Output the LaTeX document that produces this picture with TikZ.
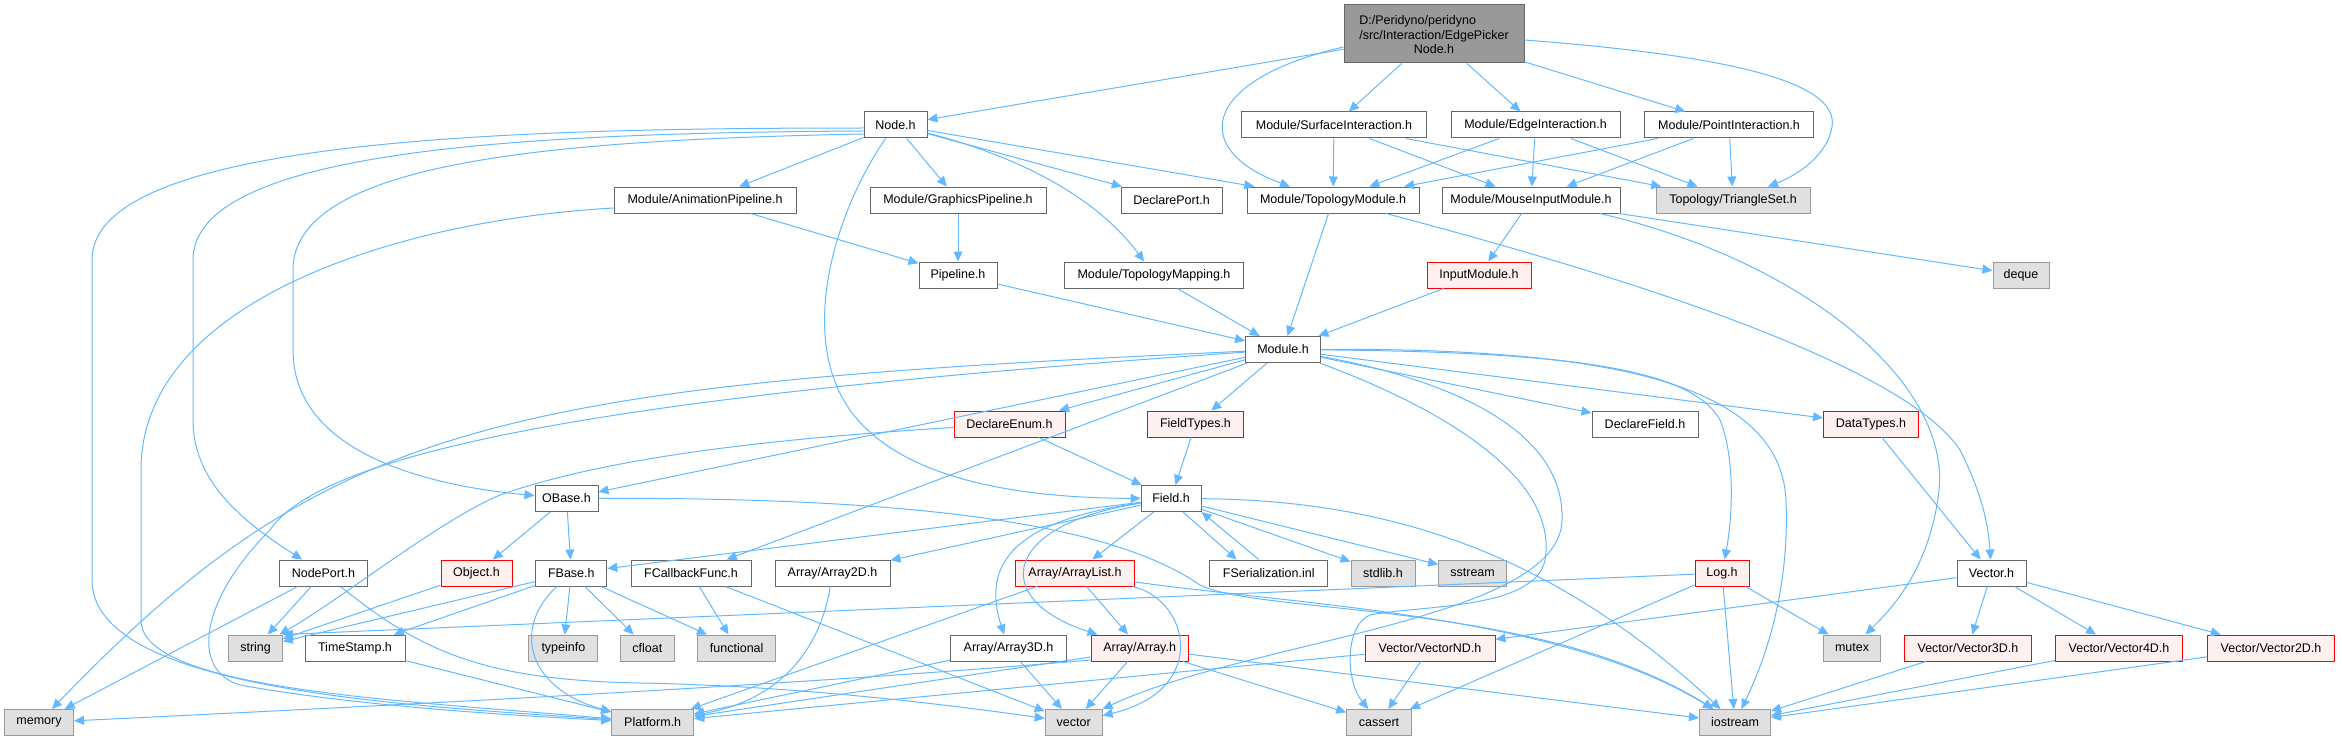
\documentclass[tikz,border=0pt]{standalone}
\usepackage{fontspec}
\setmainfont{Liberation Sans}
\usetikzlibrary{arrows.meta}
\definecolor{edgec}{HTML}{63B8FF}
\definecolor{bordc}{HTML}{666666}
\definecolor{sysb}{HTML}{999999}
\definecolor{sysf}{HTML}{E0E0E0}
\definecolor{redb}{HTML}{FF0000}
\definecolor{redf}{HTML}{FFF0F0}
\definecolor{rootf}{HTML}{999999}
\begin{document}
\begin{tikzpicture}[x=1pt,y=-1pt,
  box/.style={draw=bordc,fill=white,line width=1pt,minimum height=26pt,inner sep=0pt,font=\fontsize{12.5}{15}\selectfont},
  sys/.style={box,draw=sysb,fill=sysf},
  rbox/.style={box,draw=redb,fill=redf},
  e/.style={draw=edgec,line width=1pt,-{Triangle[length=10pt,width=9pt]}}]
\useasboundingbox (0,0) rectangle (2342,741);
% nodes
\node[box,fill=rootf,minimum width=180pt,minimum height=58pt,align=center] (root) at (1434,34) {\begin{tabular}{@{}l@{}}D:/Peridyno/peridyno\\/src/Interaction/EdgePicker\end{tabular}\\Node.h};
\node[box,minimum width=63pt] (node) at (895.5,125) {Node.h};
\node[box,minimum width=184.5pt] (surf) at (1334,125) {Module/SurfaceInteraction.h};
\node[box,minimum width=169pt] (edgei) at (1535.5,125) {Module/EdgeInteraction.h};
\node[box,minimum width=169.5pt] (pointi) at (1729,125) {Module/PointInteraction.h};
\node[box,minimum width=182pt] (anim) at (705,200) {Module/AnimationPipeline.h};
\node[box,minimum width=176pt] (graph) at (958,200) {Module/GraphicsPipeline.h};
\node[box,minimum width=101pt] (dport) at (1171.5,200) {DeclarePort.h};
\node[box,minimum width=172pt] (topo) at (1333,200) {Module/TopologyModule.h};
\node[box,minimum width=178pt] (mouse) at (1531,200) {Module/MouseInputModule.h};
\node[sys,minimum width=154pt] (tri) at (1733,200) {Topology/TriangleSet.h};
\node[box,minimum width=78pt] (pipe) at (958,275) {Pipeline.h};
\node[box,minimum width=179pt] (tmap) at (1154,275) {Module/TopologyMapping.h};
\node[rbox,minimum width=104pt] (input) at (1479,275) {InputModule.h};
\node[sys,minimum width=56pt] (deque) at (2021,275) {deque};
\node[box,minimum width=75pt] (module) at (1283,349.5) {Module.h};
\node[rbox,minimum width=111pt] (denum) at (1009.5,424) {DeclareEnum.h};
\node[rbox,minimum width=96pt] (ftypes) at (1195.5,424) {FieldTypes.h};
\node[box,minimum width=106pt] (dfield) at (1645,424) {DeclareField.h};
\node[rbox,minimum width=95pt] (dtypes) at (1871,424) {DataTypes.h};
\node[box,minimum width=63pt] (obase) at (566.5,498.5) {OBase.h};
\node[box,minimum width=60pt] (field) at (1171,498.5) {Field.h};
\node[box,minimum width=88pt] (nport) at (323.4,573) {NodePort.h};
\node[rbox,minimum width=71pt] (object) at (476.5,573) {Object.h};
\node[box,minimum width=71pt] (fbase) at (571.3,573) {FBase.h};
\node[box,minimum width=120pt] (fcb) at (691,573) {FCallbackFunc.h};
\node[box,minimum width=115pt] (arr2) at (832.5,573) {Array/Array2D.h};
\node[rbox,minimum width=119.5pt] (alist) at (1075,573) {Array/ArrayList.h};
\node[box,minimum width=118pt] (fser) at (1268.7,573) {FSerialization.inl};
\node[sys,minimum width=64pt] (stdlib) at (1383,573) {stdlib.h};
\node[sys,minimum width=68pt] (sstream) at (1472.6,573) {sstream};
\node[rbox,minimum width=54pt] (log) at (1722,573) {Log.h};
\node[box,minimum width=69pt] (vec) at (1991.5,573) {Vector.h};
\node[sys,minimum width=53.5pt] (string) at (255.6,648) {string};
\node[box,minimum width=100pt] (tstamp) at (355,648) {TimeStamp.h};
\node[sys,minimum width=69pt] (typeinfo) at (563.4,648) {typeinfo};
\node[sys,minimum width=53.4pt] (cfloat) at (647.3,648) {cfloat};
\node[sys,minimum width=78pt] (functional) at (736.7,648) {functional};
\node[box,minimum width=116pt] (arr3) at (1008.5,648) {Array/Array3D.h};
\node[rbox,minimum width=97pt] (arr) at (1139.6,648) {Array/Array.h};
\node[rbox,minimum width=130pt] (vnd) at (1430,648) {Vector/VectorND.h};
\node[sys,minimum width=57pt] (mutex) at (1852,648) {mutex};
\node[rbox,minimum width=127pt] (v3) at (1968,648) {Vector/Vector3D.h};
\node[rbox,minimum width=127pt] (v4) at (2119,648) {Vector/Vector4D.h};
\node[rbox,minimum width=126.6pt] (v2) at (2271,648) {Vector/Vector2D.h};
\node[sys,minimum width=69pt] (memory) at (39,722.5) {memory};
\node[sys,minimum width=82pt] (platform) at (652.7,722.5) {Platform.h};
\node[sys,minimum width=57pt] (vector) at (1073.7,722.5) {vector};
\node[sys,minimum width=64.6pt] (cassert) at (1379,722.5) {cassert};
\node[sys,minimum width=71pt] (iostream) at (1735,722.5) {iostream};
% root edges
\draw[e] (root) -- (node);
\draw[e] ([yshift=-13pt]root.west) .. controls (1200,80) and (1190,150) .. ([xshift=-43pt]topo.north);
\draw[e] (root) -- (surf);
\draw[e] (root) -- (edgei);
\draw[e] (root) -- (pointi);
\draw[e] ([yshift=-6pt]root.east) .. controls (1720,55) and (1840,80) .. (1832,127) .. controls (1826,160) and (1790,178) .. (tri);
% Node.h edges
\draw[e] (node) -- (anim);
\draw[e] (node) -- (graph);
\draw[e] (node) -- (dport);
\draw[e] (node) -- (topo);
\draw[e] ([yshift=-8pt]node.east) .. controls (1050,165) and (1110,215) .. (tmap);
\draw[e] ([xshift=-10pt]node.south) .. controls (830,220) and (800,340) .. (850,410) .. controls (900,480) and (1020,498) .. (field);
\draw[e] ([yshift=-3pt]node.west) .. controls (500,128) and (92,140) .. (92,260) -- (92,580) .. controls (92,690) and (400,705) .. (platform);
\draw[e] ([yshift=-6pt]node.west) .. controls (520,133) and (193,150) .. (193,260) -- (193,420) .. controls (193,480) and (240,520) .. (nport);
\draw[e] ([yshift=-9pt]node.west) .. controls (560,140) and (293,160) .. (293,270) -- (293,350) .. controls (293,450) and (420,485) .. (obase);
% pipelines
\draw[e] (anim) -- (pipe);
\draw[e] (graph) -- (pipe);
\draw[e] ([yshift=-8pt]anim.west) .. controls (400,220) and (141,300) .. (141,470) -- (141,620) .. controls (141,690) and (400,700) .. (platform);
% interaction modules
\draw[e] (surf) -- (topo);
\draw[e] (surf) -- (mouse);
\draw[e] (surf) -- (tri);
\draw[e] (edgei) -- (topo);
\draw[e] (edgei) -- (mouse);
\draw[e] (edgei) -- (tri);
\draw[e] (pointi) -- (topo);
\draw[e] (pointi) -- (mouse);
\draw[e] (pointi) -- (tri);
\draw[e] (mouse) -- (deque);
\draw[e] (mouse) -- (input);
\draw[e] ([xshift=69pt]mouse.south) .. controls (1800,260) and (1950,380) .. (1939,490) .. controls (1930,570) and (1890,610) .. (mutex);
\draw[e] (topo) -- (module);
\draw[e] ([xshift=53pt]topo.south) .. controls (1600,270) and (1900,360) .. (1960,450) .. controls (1980,490) and (1988,520) .. (vec);
\draw[e] (dtypes) -- (vec);
\draw[e] (pipe) -- (module);
\draw[e] (tmap) -- (module);
\draw[e] (input) -- (module);
% Module.h edges
\draw[e] (module) .. controls (500,385) and (330,420) .. (memory);
\draw[e] (module) .. controls (700,390) and (330,440) .. (270,530) .. controls (200,600) and (190,670) .. (240,685) .. controls (350,705) and (500,715) .. (platform);
\draw[e] (module) -- (obase);
\draw[e] (module) -- (denum);
\draw[e] (module) -- (fcb);
\draw[e] (module) -- (ftypes);
\draw[e] (module) -- (dfield);
\draw[e] (module) -- (dtypes);
\draw[e] (module) .. controls (1550,352) and (1690,365) .. (1720,420) .. controls (1736,460) and (1732,520) .. (log);
\draw[e] (module) .. controls (1600,348) and (1780,380) .. (1786,500) .. controls (1790,600) and (1760,670) .. (iostream);
\draw[e] (module) .. controls (1420,400) and (1560,470) .. (1545,560) .. controls (1535,610) and (1420,605) .. (1370,615) .. controls (1345,625) and (1345,680) .. (cassert);
\draw[e] (module) .. controls (1450,380) and (1565,430) .. (1562,520) .. controls (1560,620) and (1250,640) .. (vector);
% DeclareEnum, FieldTypes
\draw[e] (denum) -- (field);
\draw[e] (denum) .. controls (750,440) and (600,460) .. (500,495) .. controls (440,520) and (340,600) .. (string);
\draw[e] (ftypes) -- (field);
% OBase
\draw[e] (obase) -- (object);
\draw[e] (obase) -- (fbase);
\draw[e] (obase) .. controls (950,497) and (1120,530) .. (1200,585) .. controls (1260,615) and (1540,600) .. (iostream);
% Field.h
\draw[e] (field) -- (fbase);
\draw[e] (field) -- (arr2);
\draw[e] (field) -- (alist);
\draw[e] (field) .. controls (1020,520) and (980,560) .. (arr3);
\draw[e] (field) .. controls (1000,525) and (990,600) .. (arr);
\draw[e] ([xshift=12pt]field.south) -- ([xshift=-32pt]fser.north);
\draw[e] ([xshift=-10pt]fser.north) -- (field.south east);
\draw[e] (field) -- (stdlib);
\draw[e] (field) -- (sstream);
\draw[e] (field) .. controls (1400,500) and (1560,560) .. (iostream);
% NodePort, Object, FBase
\draw[e] (nport) -- (string);
\draw[e] (nport) -- (memory);
\draw[e] (nport) .. controls (420,650) and (480,680) .. (640,683) .. controls (800,686) and (950,705) .. (vector);
\draw[e] (object) -- (string);
\draw[e] (fbase) -- (string);
\draw[e] (fbase) -- (tstamp);
\draw[e] (fbase) -- (typeinfo);
\draw[e] (fbase) -- (cfloat);
\draw[e] (fbase) -- (functional);
\draw[e] (fbase) .. controls (510,630) and (530,690) .. (platform);
\draw[e] (tstamp) -- (platform);
\draw[e] (fcb) -- (functional);
\draw[e] (fcb) -- (vector);
\draw[e] (arr2) .. controls (820,650) and (780,700) .. (platform);
% arrays
\draw[e] (alist) -- (platform);
\draw[e] (alist) -- (arr);
\draw[e] (alist) .. controls (1190,600) and (1210,690) .. (vector);
\draw[e] ([yshift=-9pt]alist.east) .. controls (1300,605) and (1560,615) .. (iostream);
\draw[e] (arr3) -- (platform);
\draw[e] (arr3) -- (vector);
\draw[e] ([yshift=-9pt]arr.west) -- (platform);
\draw[e] ([yshift=-12pt]arr.west) .. controls (800,685) and (400,705) .. (memory);
\draw[e] (arr) -- (vector);
\draw[e] (arr) -- (cassert);
\draw[e] (arr) -- (iostream);
\draw[e] (vnd) -- (cassert);
\draw[e] (vnd) -- (platform);
% Log, Vector
\draw[e] (log) -- (string.north east);
\draw[e] (log) -- (cassert);
\draw[e] (log) -- (iostream);
\draw[e] (log) -- (mutex);
\draw[e] (vec) -- (vnd);
\draw[e] (vec) -- (v3);
\draw[e] (vec) -- (v4);
\draw[e] (vec) -- (v2);
\draw[e] (v3) -- (iostream);
\draw[e] (v4) -- (iostream);
\draw[e] (v2) -- (iostream);
\end{tikzpicture}
\end{document}
